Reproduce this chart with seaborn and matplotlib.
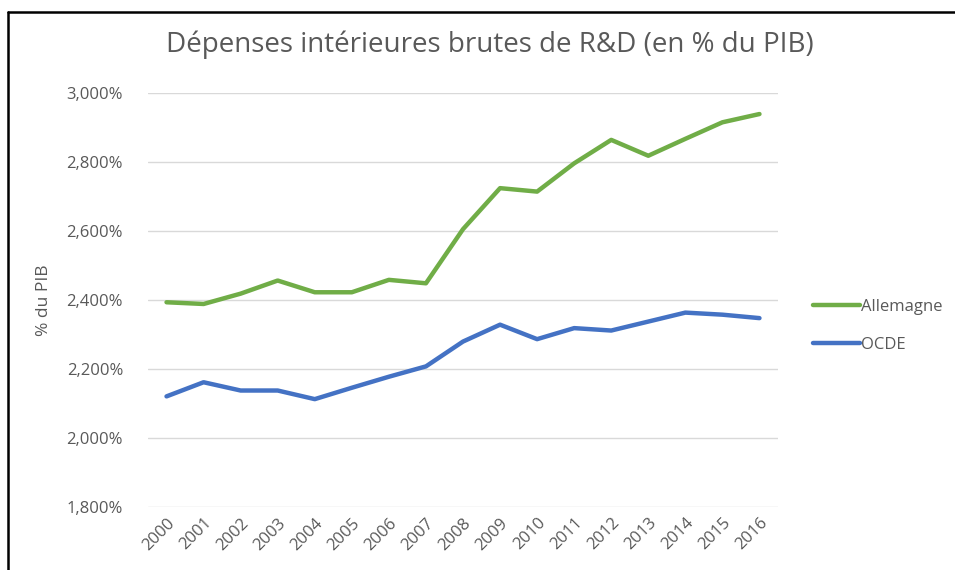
import matplotlib
matplotlib.use("Agg")
import matplotlib.pyplot as plt
import seaborn as sns
import pandas as pd
from matplotlib.lines import Line2D
from matplotlib.ticker import FuncFormatter

years = [str(y) for y in range(2000, 2017)]
allemagne = [2.393, 2.388, 2.418, 2.456, 2.422, 2.422, 2.458, 2.448, 2.605,
             2.724, 2.714, 2.796, 2.864, 2.818, 2.867, 2.915, 2.939]
ocde = [2.120, 2.161, 2.137, 2.137, 2.112, 2.145, 2.177, 2.207, 2.279,
        2.328, 2.286, 2.318, 2.311, 2.337, 2.363, 2.357, 2.347]
series_names = ["Allemagne", "OCDE"]
yticks = [1.8, 2.0, 2.2, 2.4, 2.6, 2.8, 3.0]

df = pd.DataFrame({"Année": years * 2,
                   "Valeur": allemagne + ocde,
                   "Série": [series_names[0]] * len(years) + [series_names[1]] * len(years)})

sns.set_theme(style="white")
plt.rcParams['font.family'] = ['Open Sans', 'DejaVu Sans']

fig = plt.figure(figsize=(9.55, 5.7), dpi=100)
ax = fig.add_axes([148 / 955, 1 - 506.7 / 570, (778 - 148) / 955, (506.7 - 93) / 570])

palette = {"Allemagne": "#70AD47", "OCDE": "#4472C4"}
sns.lineplot(data=df, x="Année", y="Valeur", hue="Série", palette=palette,
             linewidth=3.2, ax=ax, sort=False, legend=False)

ax.set_xlim(-0.5, len(years) - 0.5)
ax.set_ylim(1.8, 3.0)
ax.set_yticks(yticks)
ax.yaxis.set_major_formatter(FuncFormatter(lambda v, p: f"{v:.3f}".replace(".", ",") + "%"))
ax.grid(axis="y", color="#d9d9d9", linewidth=1)
ax.set_axisbelow(True)
for s in ax.spines.values():
    s.set_visible(False)
ax.tick_params(axis="both", length=0, colors="#595959", labelsize=12)
ax.tick_params(axis="y", pad=18)
ax.tick_params(axis="x", pad=6)
plt.setp(ax.get_xticklabels(), rotation=45, ha="right", rotation_mode="anchor")
ax.set_xlabel("")
ax.set_ylabel("% du PIB", color="#595959", fontsize=12.5)
ax.yaxis.set_label_coords(-0.152, 0.5)

fig.text(490 / 955, 1 - 45 / 570, "Dépenses intérieures brutes de R&D (en % du PIB)",
         ha="center", va="center", fontsize=20, color="#595959")

handles = [Line2D([0], [0], color=palette[n], linewidth=3.2) for n in series_names]
leg = fig.legend(handles, series_names, loc="center left",
                 bbox_to_anchor=(798 / 955, 1 - 326 / 570), frameon=False,
                 handlelength=2.8, handletextpad=0.1, labelspacing=1.3, fontsize=12)
for t in leg.get_texts():
    t.set_color("#595959")

# chart border (top and left)
fig.add_artist(Line2D([8 / 955, 8 / 955], [0, 1 - 12 / 570], color="black", linewidth=1.8,
                      transform=fig.transFigure))
fig.add_artist(Line2D([8 / 955, 1], [1 - 12 / 570, 1 - 12 / 570], color="black", linewidth=1.8,
                      transform=fig.transFigure))

fig.savefig("out.png", dpi=100)
